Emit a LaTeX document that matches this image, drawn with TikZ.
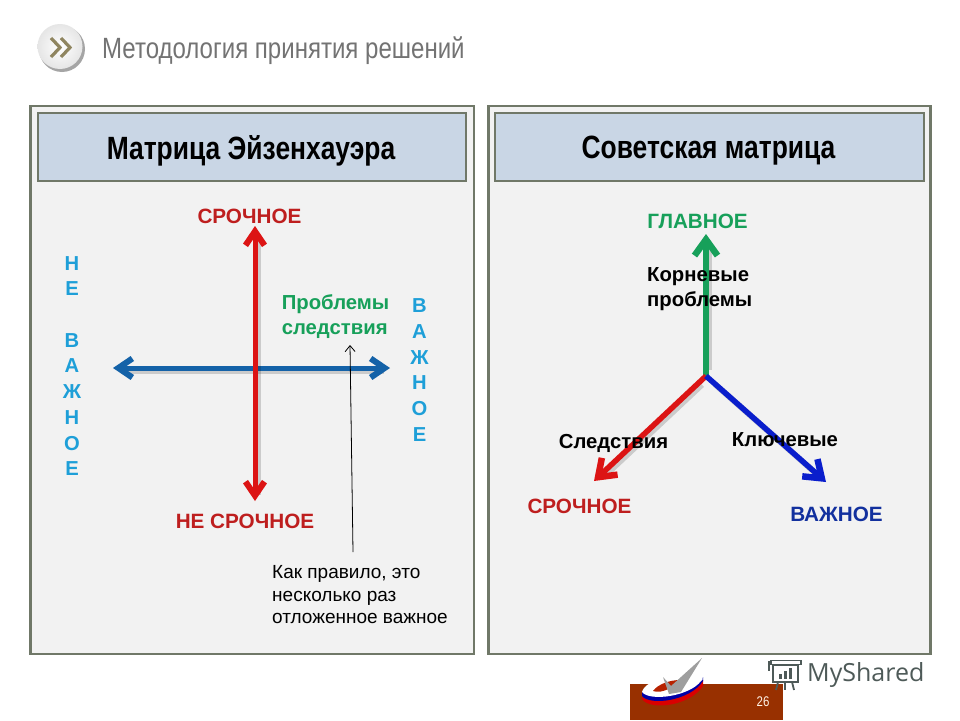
\documentclass[tikz,border=0pt]{standalone}
\usepackage{fontspec}
\setmainfont{Liberation Sans}
\newfontfamily\narrowf[FakeStretch=0.82]{Liberation Sans}
\newfontfamily\brandf{Open Sans}
\usetikzlibrary{arrows.meta}
\definecolor{frameC}{HTML}{707868}
\definecolor{panelC}{HTML}{F2F2F2}
\definecolor{headC}{HTML}{C9D6E5}
\definecolor{redC}{HTML}{BE1E1E}
\definecolor{arrowRed}{HTML}{DC1414}
\definecolor{cyanC}{HTML}{1E9FD8}
\definecolor{blueArrow}{HTML}{1462A8}
\definecolor{greenC}{HTML}{17A05A}
\definecolor{navyC}{HTML}{12309E}
\definecolor{pureBlue}{HTML}{0A1ECC}
\definecolor{brickC}{HTML}{983000}
\definecolor{logoG}{HTML}{4E5A58}
\definecolor{chevC}{HTML}{8F8560}
\tikzset{
  x=1pt,y=-1pt,
  panel/.style={draw=frameC,line width=2.7pt,fill=panelC},
  headbox/.style={draw=frameC,line width=2.7pt,fill=headC},
  headtext/.style={font=\narrowf\bfseries\fontsize{32.2}{34}\selectfont,text=black,inner sep=0pt},
  lab/.style={font=\bfseries\fontsize{20.7}{24}\selectfont,inner sep=0pt},
  stack/.style={lab,text=cyanC,align=center,font=\bfseries\fontsize{20.2}{25.7}\selectfont},
  plain/.style={font=\bfseries\fontsize{20.3}{25}\selectfont,inner sep=0pt,align=left},
  blackbold/.style={font=\bfseries\fontsize{20.3}{25}\selectfont,inner sep=0pt,align=left,text=black},
  thick arrow/.style={line width=5.5pt,-{Straight Barb[length=16pt,width=23pt,line width=6.5pt]}},
  both arrow/.style={line width=5pt,{Straight Barb[length=14pt,width=19pt,line width=6pt]}-{Straight Barb[length=14pt,width=19pt,line width=6pt]}},
  shade line/.style={draw=black,opacity=0.16,line width=6pt,shorten >=9pt,shorten <=9pt},
  off/.style={shift={(2.5,2.5)}},
}
\begin{document}
\begin{tikzpicture}
\useasboundingbox (0,0) rectangle (960,720);
\fill[white] (0,0) rectangle (960,720);

% bullet
\fill[black!50,opacity=.7] (62,49) circle (23);
\shade[inner color=white,outer color=black!10] (60,46.5) circle (22.5);
\draw[chevC,line width=3.2pt] (51,38) -- (60,47.5) -- (51,57);
\draw[chevC,line width=3.2pt] (61,38) -- (70,47.5) -- (61,57);
\node[anchor=west,inner sep=0pt,text=black!55,font=\narrowf\fontsize{29.3}{32}\selectfont] (title) at (102,51) {Методология принятия решений};

% panels
\draw[panel] (30.5,106) rectangle (474,654);
\draw[headbox] (38,113) rectangle (466,181);
\node[headtext] (h1) at (251,151) {Матрица Эйзенхауэра};
\draw[panel] (488.5,106) rectangle (930.5,654);
\draw[headbox] (495,113) rectangle (924,181);
\node[headtext] (h2) at (708.5,151) {Советская матрица};

% left matrix
\coordinate (vt) at (255,226);
\coordinate (vb) at (255,501);
\coordinate (hl) at (113,368);
\coordinate (hr) at (390,368);
\draw[shade line] ([off]hl) -- ([off]hr);
\draw[both arrow,draw=blueArrow] (hl) -- (hr);
\draw[shade line] ([off]vt) -- ([off]vb);
\draw[both arrow,draw=arrowRed] (vt) -- (vb);

\node[lab,text=redC] (urgent) at (249.5,216) {СРОЧНОЕ};
\node[lab,text=redC] (noturgent) at (245,521) {НЕ СРОЧНОЕ};
\node[stack] (notimp) at (72,366) {Н\\Е\\[25.7pt]В\\А\\Ж\\Н\\О\\Е};
\node[stack] (imp) at (419.5,370) {В\\А\\Ж\\Н\\О\\Е};
\node[plain,text=greenC] (probl) at (335.5,317) {Проблемы\\следствия};
\node[plain,text=black,anchor=north west,font=\fontsize{19}{22.5}\selectfont] (note) at (272,565.5) {Как правило, это\\несколько раз\\отложенное важное};
\coordinate (noteTop) at (353,552);
\coordinate (probBot) at (350,345);
\draw[black,line width=0.8pt,-{Straight Barb[length=6pt,width=10pt]}] (noteTop) -- (probBot);

% right matrix
\coordinate (c) at (706,376);
\coordinate (up) at (706,234);
\coordinate (dl) at (594,481);
\coordinate (dr) at (826,482);
\draw[shade line] ([off]c) -- ([off]up);
\draw[shade line] ([off]c) -- ([off]dl);
\draw[shade line] ([off]c) -- ([off]dr);
\draw[draw=greenC,line width=6pt,-{Straight Barb[length=16pt,width=23pt,line width=6.5pt]}] (c) -- (up);
\draw[thick arrow,draw=arrowRed] (c) -- (dl);
\draw[thick arrow,draw=pureBlue] (c) -- (dr);

\node[lab,text=greenC] (main) at (697.5,221) {ГЛАВНОЕ};
\node[lab,text=redC] (urgent2) at (579.5,506) {СРОЧНОЕ};
\node[lab,text=navyC] (imp2) at (836.5,514) {ВАЖНОЕ};
\node[blackbold,anchor=west] (root) at (647,289) {Корневые\\проблемы};
\node[blackbold] (cons) at (613.5,443) {Следствия};
\node[blackbold] (key) at (785,440) {Ключевые};

% footer
\fill[brickC] (630,684) rectangle (783,720);
\node[inner sep=0pt,text=white!90!orange,font=\narrowf\fontsize{14}{16}\selectfont] (page) at (763,702) {26};

% logo swoosh
\fill[red!85!black] (642,699) .. controls (650,711) and (690,706) .. (703,686) -- (703,680) .. controls (690,698) and (655,704) .. (642,697) -- cycle;
\fill[blue!65!black] (642,696) .. controls (650,706) and (690,701) .. (703,681) -- (703,677) .. controls (690,695) and (655,700) .. (642,692) -- cycle;
\fill[white] (642,692) .. controls (645,680) and (675,672) .. (697,675) .. controls (704,676) and (704,679) .. (701,681) .. controls (690,696) and (650,702) .. (642,692) -- cycle;
\fill[brickC!70!red] (653,691) .. controls (658,684) and (670,680) .. (680,680) .. controls (672,688) and (662,694) .. (653,691) -- cycle;
\fill[black!38] (663,677) -- (671,686) -- (702,658) -- (681,692) -- (669,694) -- cycle;

% MyShared logo
\begin{scope}[draw=logoG,line width=1.8pt]
\draw (771,660.5) rectangle (801,664.5);
\draw (773,665) rectangle (798,682);
\draw (769,661) -- (769,671);
\draw (778,682) -- (776,690);
\draw (785,682) -- (785,690);
\draw (792,682) -- (794,690);
\fill[logoG] (779,674) rectangle (782,679);
\fill[logoG] (784,671) rectangle (787,679);
\fill[logoG] (789,668) rectangle (792,679);
\end{scope}
\node[anchor=west,inner sep=0pt,text=logoG,font=\brandf\fontsize{25}{30}\selectfont] (brand) at (807,675) {MyShared};
\end{tikzpicture}
\end{document}
